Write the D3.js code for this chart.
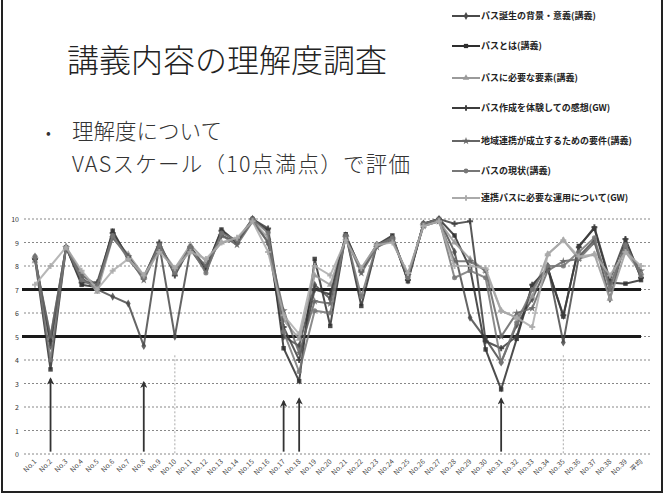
<!DOCTYPE html>
<html>
<head>
<meta charset="utf-8">
<script src="https://cdn.jsdelivr.net/npm/d3@7"></script>
<style>
  body { margin: 0; background: #fff; }
  text { font-family: "Noto Sans CJK JP", "Noto Sans", sans-serif; }
</style>
</head>
<body>
<div id="main"></div>
<script>
// categories (No.1 .. No.39 + average)
const categories = ["No.1","No.2","No.3","No.4","No.5","No.6","No.7","No.8","No.9","No.10",
  "No.11","No.12","No.13","No.14","No.15","No.16","No.17","No.18","No.19","No.20",
  "No.21","No.22","No.23","No.24","No.25","No.26","No.27","No.28","No.29","No.30",
  "No.31","No.32","No.33","No.34","No.35","No.36","No.37","No.38","No.39","平均"];

const seriesNames = [
  "パス誕生の背景・意義(講義)",
  "パスとは(講義)",
  "パスに必要な要素(講義)",
  "パス作成を体験しての感想(GW)",
  "地域連携が成立するための要件(講義)",
  "パスの現状(講義)",
  "連携パスに必要な運用について(GW)"
];

// values
const s1 = [8.4,4.6,8.8,7.5,7.0,6.7,6.4,4.6,8.9,5.0,8.7,7.8,9.3,9.0,10.0,9.0,5.0,4.6,7.2,6.6,9.3,7.8,8.9,9.2,7.5,9.8,10.0,8.6,5.8,4.9,3.9,5.5,6.6,8.0,4.75,8.4,9.1,6.6,9.1,7.5];
const s2 = [8.3,3.6,8.8,7.2,7.1,9.5,8.3,7.5,8.9,7.7,8.8,7.9,9.55,9.0,10.0,9.5,4.5,3.1,8.3,5.45,9.35,6.3,8.9,9.3,7.35,9.8,10.0,9.3,7.9,4.45,2.75,4.9,7.15,7.9,5.85,8.85,9.6,7.3,7.25,7.4];
const s3 = [8.2,5.0,8.8,7.7,6.9,9.2,8.5,7.6,8.8,7.9,8.9,8.2,9.0,9.1,9.9,9.2,5.7,4.9,7.6,7.2,9.2,7.9,8.9,9.1,7.6,9.7,9.9,9.0,8.3,7.8,6.1,5.8,6.7,8.5,9.1,8.3,8.5,6.6,8.6,7.7];
const s4 = [8.3,4.8,8.8,7.3,7.3,9.4,8.4,7.5,9.0,7.6,8.8,7.9,9.5,9.0,10.0,9.6,5.4,4.0,7.0,6.8,9.3,7.8,8.9,9.2,7.4,9.8,10.0,9.8,9.9,4.8,4.5,5.0,7.2,7.9,5.9,8.8,9.65,7.4,9.15,7.5];
const s5 = [8.3,5.0,8.8,7.6,7.2,9.2,8.4,7.4,8.8,7.8,8.7,8.0,9.3,8.9,9.9,9.0,6.1,4.3,6.5,6.4,9.2,7.7,8.8,9.1,7.6,9.7,9.9,8.2,8.2,7.8,5.0,6.0,6.2,7.8,8.2,8.3,9.0,7.2,8.8,7.8];
const s6 = [8.4,4.0,8.8,7.4,7.1,9.3,8.3,7.5,8.9,7.7,8.8,7.7,9.4,9.1,10.0,9.4,5.2,3.5,6.1,6.0,9.3,6.7,8.9,9.2,7.5,9.8,10.0,7.5,7.8,7.5,3.9,5.6,7.0,8.0,8.0,8.6,9.2,7.0,8.9,7.6];
const s7 = [7.2,8.0,8.8,7.8,7.0,7.8,8.3,7.6,8.6,7.9,8.6,8.3,9.0,9.2,9.9,8.6,5.9,5.1,8.0,7.6,9.1,7.9,8.9,9.0,7.7,9.7,9.9,8.0,8.0,7.9,6.1,5.8,5.4,8.5,9.1,8.4,8.5,7.6,8.6,8.0];

const yTicks = [0,1,2,3,4,5,6,7,8,9,10];
const refLines = [7, 5];
// hand drawn arrows under the low points
const arrowCats = ["No.2","No.8","No.17","No.18","No.31"];
const arrowTips = [3.2, 3.05, 2.25, 2.35, 2.35];
const dropCats = ["No.10","No.35"];

const allSeries = [s1, s2, s3, s4, s5, s6, s7];
const colors = ["#4a4a4a","#2e2e2e","#9a9a9a","#3c3c3c","#666","#777","#aaa"];
const symbols = [d3.symbolDiamond, d3.symbolSquare, d3.symbolTriangle, d3.symbolCross, d3.symbolStar, d3.symbolCircle, d3.symbolCross];

const W = 666, H = 495;
const svg = d3.select("#main").append("svg")
  .attr("width", W).attr("height", H);

// slide frame
svg.append("path")
  .attr("d", "M2,0 V492 H662 V0")
  .attr("fill", "none").attr("stroke", "#222").attr("stroke-width", 2);

// title + bullet
svg.append("text").attr("x", 67).attr("y", 72)
  .attr("font-size", 32).attr("fill", "#222").attr("font-weight", 300)
  .text("講義内容の理解度調査");
svg.append("text").attr("x", 46).attr("y", 138).attr("font-size", 14).attr("fill", "#333").text("•");
svg.append("text").attr("x", 72).attr("y", 139)
  .attr("font-size", 21.5).attr("fill", "#333").attr("font-weight", 300)
  .attr("textLength", 150).text("理解度について");
svg.append("text").attr("x", 72).attr("y", 172)
  .attr("font-size", 21.5).attr("fill", "#333").attr("font-weight", 300)
  .attr("textLength", 338).text("VASスケール（10点満点）で評価");

// scales
const x = d3.scalePoint().domain(categories).range([35, 641]);
const y = d3.scaleLinear().domain([0, 10]).range([454, 219]);

// gridlines
svg.append("g").selectAll("line")
  .data(yTicks)
  .join("line")
  .attr("x1", 24).attr("x2", 650)
  .attr("y1", d => y(d)).attr("y2", d => y(d))
  .attr("stroke", "#888").attr("stroke-width", 1)
  .attr("stroke-dasharray", "2,2");

// y labels
svg.append("g").selectAll("text")
  .data(yTicks)
  .join("text")
  .attr("x", 19).attr("y", d => y(d) + 3)
  .attr("text-anchor", "end").attr("font-size", 7).attr("fill", "#333")
  .text(d => d);

// x labels
svg.append("g").selectAll("text")
  .data(categories)
  .join("text")
  .attr("transform", d => `translate(${x(d) + 2},${462}) rotate(-45)`)
  .attr("text-anchor", "end").attr("font-size", 7).attr("fill", "#444")
  .text(d => d);

// faint drop lines
svg.append("g").selectAll("line")
  .data(dropCats)
  .join("line")
  .attr("x1", d => x(d)).attr("x2", d => x(d))
  .attr("y1", y(4.2)).attr("y2", y(0))
  .attr("stroke", "#aaa").attr("stroke-dasharray", "2,2");

// reference lines at 7 and 5
svg.append("g").selectAll("line")
  .data(refLines)
  .join("line")
  .attr("x1", 22).attr("x2", 641)
  .attr("y1", d => y(d)).attr("y2", d => y(d))
  .attr("stroke", "#1a1a1a").attr("stroke-width", 3);

// series
const line = d3.line()
  .x((d, i) => x(categories[i]))
  .y(d => y(d));

allSeries.forEach(function (s, k) {
  svg.append("path")
    .datum(s)
    .attr("fill", "none")
    .attr("stroke", colors[k])
    .attr("stroke-width", 2)
    .attr("stroke-opacity", 0.85)
    .attr("d", line);
  svg.append("g").selectAll("path")
    .data(s)
    .join("path")
    .attr("transform", (d, i) => `translate(${x(categories[i])},${y(d)})`)
    .attr("d", d3.symbol().type(symbols[k]).size(20))
    .attr("fill", colors[k])
    .attr("opacity", 0.85);
});

// arrows
const defs = svg.append("defs");
defs.append("marker")
  .attr("id", "arr").attr("viewBox", "0 0 10 10")
  .attr("refX", 8).attr("refY", 5)
  .attr("markerWidth", 4).attr("markerHeight", 4)
  .attr("orient", "auto")
  .append("path").attr("d", "M0,0 L10,5 L0,10 L3,5 Z").attr("fill", "#333");

svg.append("g").selectAll("line")
  .data(arrowCats)
  .join("line")
  .attr("x1", d => x(d)).attr("x2", d => x(d))
  .attr("y1", y(0.1)).attr("y2", (d, i) => y(arrowTips[i]))
  .attr("stroke", "#333").attr("stroke-width", 1.8)
  .attr("marker-end", "url(#arr)");

// legend
const legendY = [16, 46, 78, 108, 141, 171, 198];
const legend = svg.append("g");
seriesNames.forEach(function (name, k) {
  const g = legend.append("g").attr("transform", `translate(452,${legendY[k]})`);
  g.append("line").attr("x1", 0).attr("x2", 28).attr("y1", 0).attr("y2", 0)
    .attr("stroke", colors[k]).attr("stroke-width", 2);
  g.append("path").attr("transform", "translate(14,0)")
    .attr("d", d3.symbol().type(symbols[k]).size(18)).attr("fill", colors[k]);
  g.append("text").attr("x", 29).attr("y", 3)
    .attr("font-size", 9).attr("fill", "#222").attr("font-weight", 700)
    .text(name);
});
</script>
</body>
</html>
